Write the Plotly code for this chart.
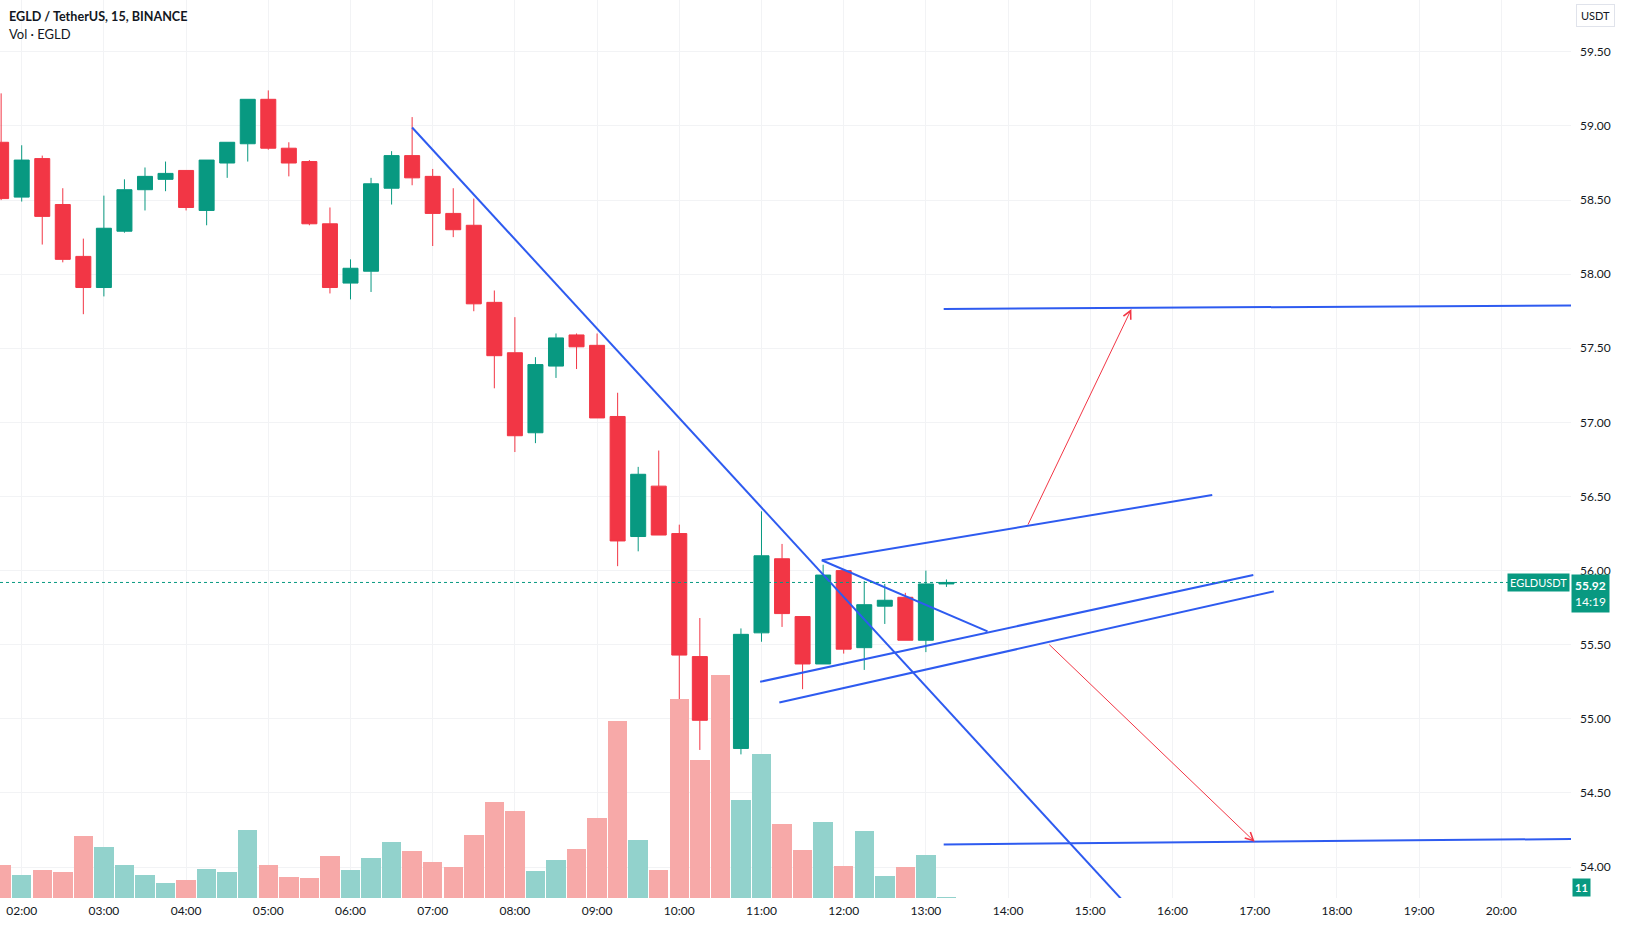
import pandas as pd
import plotly.graph_objects as go

# ---------------- data ----------------
DAY = "2022-03-15"
times = pd.date_range(DAY + " 01:45", periods=47, freq="15min")

opens = [58.89, 58.52, 58.78, 58.47, 58.12, 57.91, 58.29, 58.57, 58.64, 58.70,
         58.43, 58.75, 58.88, 59.18, 58.85, 58.76, 58.34, 57.94, 58.02, 58.58,
         58.80, 58.66, 58.41, 58.33, 57.81, 57.47, 56.93, 57.38, 57.59, 57.52,
         57.04, 56.23, 56.57, 56.25, 55.42, 54.99, 54.80, 55.58, 56.08, 55.69,
         55.37, 56.00, 55.48, 55.76, 55.82, 55.53, 55.91]
highs = [59.22, 58.87, 58.80, 58.58, 58.24, 58.53, 58.64, 58.72, 58.76, 58.70,
         58.77, 58.89, 59.18, 59.24, 58.89, 58.77, 58.45, 58.10, 58.65, 58.83,
         59.06, 58.71, 58.58, 58.51, 57.89, 57.71, 57.44, 57.60, 57.60, 57.60,
         57.20, 56.70, 56.81, 56.31, 55.68, 55.18, 55.61, 56.40, 56.18, 55.69,
         56.04, 56.00, 55.93, 55.91, 55.85, 56.00, 55.94]
lows = [58.50, 58.49, 58.20, 58.08, 57.73, 57.85, 58.28, 58.43, 58.56, 58.43,
        58.33, 58.65, 58.76, 58.84, 58.66, 58.33, 57.87, 57.83, 57.88, 58.47,
        58.60, 58.19, 58.25, 57.75, 57.23, 56.80, 56.86, 57.30, 57.36, 57.03,
        56.03, 56.13, 56.24, 55.05, 54.79, 54.28, 54.76, 55.52, 55.62, 55.20,
        55.37, 55.44, 55.33, 55.64, 55.53, 55.45, 55.89]
closes = [58.51, 58.77, 58.39, 58.10, 57.91, 58.31, 58.57, 58.66, 58.68, 58.45,
          58.77, 58.89, 59.18, 58.85, 58.75, 58.34, 57.91, 58.04, 58.61, 58.80,
          58.65, 58.41, 58.30, 57.80, 57.45, 56.91, 57.39, 57.57, 57.51, 57.03,
          56.20, 56.65, 56.24, 55.43, 54.99, 54.81, 55.57, 56.10, 55.71, 55.37,
          55.97, 55.47, 55.77, 55.80, 55.53, 55.91, 55.92]
volumes = [402, 282, 342, 318, 750, 618, 402, 282, 186, 222,
           354, 318, 822, 402, 258, 246, 510, 342, 486, 678,
           570, 438, 378, 762, 1158, 1050, 330, 462, 594, 958,
           2130, 702, 342, 2394, 1662, 2682, 1182, 1734, 894, 582,
           918, 390, 810, 270, 378, 522, 11]

hour_ticks = pd.date_range(DAY + " 02:00", DAY + " 20:00", freq="1h")
price_ticks = [54.0, 54.5, 55.0, 55.5, 56.0, 56.5, 57.0, 57.5, 58.0, 58.5, 59.0, 59.5]
last_price = 55.92
countdown = "14:19"

# drawings (time, price)
trend_down = [("06:45", 58.99), ("15:30", 53.71)]
wedge_down = [("11:44", 56.07), ("13:45", 55.59)]
wedge_up = [("11:44", 56.07), ("16:29", 56.51)]
channel_1 = [("10:59", 55.25), ("16:59", 55.97)]
channel_2 = [("11:13", 55.11), ("17:14", 55.86)]
target_high = [("13:13", 57.765), ("21:00", 57.79)]
target_low = [("13:13", 54.152), ("21:00", 54.19)]
arrow_up = [("14:14", 56.30), ("15:30", 57.765)]
arrow_down = [("14:29", 55.51), ("17:00", 54.17)]

# ---------------- style ----------------
UP = "#089981"
DOWN = "#F23645"
VOL_UP = "#92D2CC"
VOL_DOWN = "#F7A9A8"
BLUE = "#2E5BF0"
GRID = "#F2F3F5"
TXT = "#131722"
FONT = "Lato"

vol_colors = [VOL_UP if c >= o else VOL_DOWN for o, c in zip(opens, closes)]

fig = go.Figure()
fig.add_trace(go.Bar(
    x=times, y=volumes, yaxis="y2", marker=dict(color=vol_colors, line=dict(width=0)),
    width=14.2 * 60 * 1000, hoverinfo="skip", showlegend=False))
fig.add_trace(go.Candlestick(
    x=times, open=opens, high=highs, low=lows, close=closes,
    increasing=dict(line=dict(color=UP, width=1), fillcolor=UP),
    decreasing=dict(line=dict(color=DOWN, width=1), fillcolor=DOWN),
    whiskerwidth=0, hoverinfo="skip", showlegend=False))


def t(s):
    return DAY + " " + s + ":00"


shapes = []
for seg in [trend_down, wedge_down, wedge_up, channel_1, channel_2, target_high, target_low]:
    (t0, p0), (t1, p1) = seg
    shapes.append(dict(type="line", xref="x", yref="y", x0=t(t0), y0=p0, x1=t(t1), y1=p1,
                       line=dict(color=BLUE, width=2)))
shapes.append(dict(type="line", xref="paper", yref="y", x0=0, x1=1, y0=last_price, y1=last_price,
                   line=dict(color=UP, width=1, dash="dot")))

annotations = []
for seg in [arrow_up, arrow_down]:
    (t0, p0), (t1, p1) = seg
    annotations.append(dict(x=t(t1), y=p1, ax=t(t0), ay=p0, xref="x", yref="y", axref="x", ayref="y",
                            text="", showarrow=True, arrowhead=5, arrowsize=1.6, arrowwidth=1,
                            arrowcolor=DOWN))

annotations += [
    dict(xref="paper", yref="paper", x=0, y=1, xanchor="left", yanchor="top", xshift=7, yshift=-7,
         text="<b>EGLD / TetherUS, 15, BINANCE</b>", showarrow=False,
         font=dict(family=FONT, size=12.6, color=TXT)),
    dict(xref="paper", yref="paper", x=0, y=1, xanchor="left", yanchor="top", xshift=7, yshift=-24,
         text="Vol · EGLD", showarrow=False, font=dict(family=FONT, size=13, color=TXT)),
    dict(xref="paper", yref="paper", x=1, y=1, xanchor="left", yanchor="top", xshift=5, yshift=-4,
         text="USDT", showarrow=False, font=dict(family=FONT, size=11, color=TXT),
         bgcolor="white", bordercolor="#E0E3EB", borderwidth=1, borderpad=4),
    dict(xref="paper", yref="y", x=1, y=last_price, xanchor="right", yanchor="middle", xshift=-1,
         text="EGLDUSDT", showarrow=False, font=dict(family=FONT, size=11, color="white"),
         bgcolor=UP, borderpad=2),
    dict(xref="paper", yref="y", x=1, y=last_price, xanchor="left", yanchor="top", yshift=8,
         text="<b>%.2f</b><br>%s" % (last_price, countdown), showarrow=False, align="center",
         font=dict(family=FONT, size=12, color="white"), bgcolor=UP, borderpad=3),
    dict(xref="paper", yref="y2", x=1, y=volumes[-1], xanchor="left", yanchor="bottom", xshift=1,
         text="<b>%d</b>" % volumes[-1], showarrow=False,
         font=dict(family=FONT, size=11, color="white"), bgcolor=UP, borderpad=2),
]

fig.update_layout(
    width=1626, height=926,
    margin=dict(l=0, r=55, t=0, b=28),
    paper_bgcolor="white", plot_bgcolor="white",
    font=dict(family=FONT, size=12, color=TXT),
    showlegend=False, bargap=0, boxgap=0.27, boxgroupgap=0,
    shapes=shapes, annotations=annotations,
    xaxis=dict(
        range=[DAY + " 01:44:10", DAY + " 20:50:53"],
        tickvals=hour_ticks, tickformat="%H:%M",
        showgrid=True, gridcolor=GRID, gridwidth=1,
        zeroline=False, showline=False, ticks="",
        rangeslider=dict(visible=False), fixedrange=True,
        tickfont=dict(family=FONT, size=12, color=TXT), ticklabelstandoff=4,
    ),
    yaxis=dict(
        range=[53.791, 59.850], side="right",
        tickvals=price_ticks, tickformat=".2f",
        showgrid=True, gridcolor=GRID, gridwidth=1,
        zeroline=False, showline=False, ticks="",
        tickfont=dict(family=FONT, size=12, color=TXT), ticklabelstandoff=8,
    ),
    yaxis2=dict(
        range=[0, 898 * 12], overlaying="y", side="right",
        showgrid=False, showticklabels=False, zeroline=False, showline=False,
    ),
)

fig.write_html("out.html")
